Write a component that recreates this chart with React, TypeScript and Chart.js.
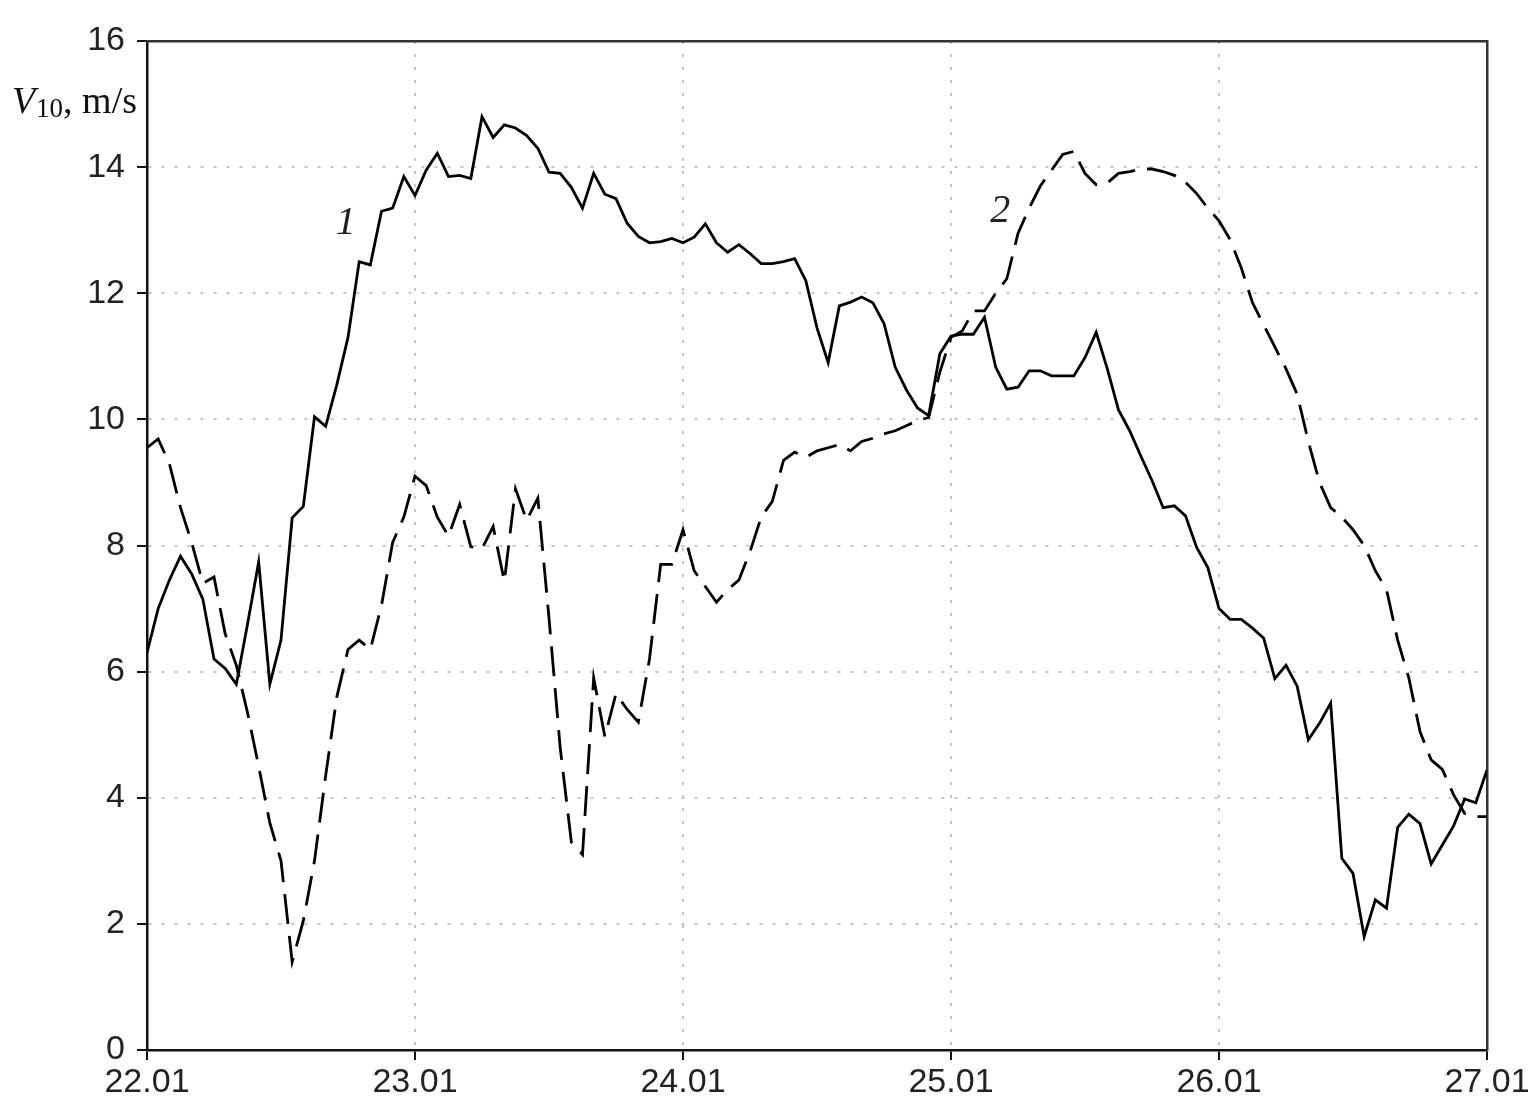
import React, { useEffect, useRef } from 'react';
import { Chart, registerables } from 'chart.js';

Chart.register(...registerables);

// x axis: hours since 22.01 00:00, hourly readings
const dayLabels = ['22.01', '23.01', '24.01', '25.01', '26.01', '27.01'];
const hoursPerDay = 24;

// Curve 1 (solid), V10 m/s, hourly from 22.01 to 27.01
const series1 = [
  6.3, 7.0, 7.45, 7.83, 7.55, 7.15, 6.2, 6.05, 5.8, 6.75,
  7.74, 5.8, 6.5, 8.44, 8.62, 10.04, 9.89, 10.55, 11.3, 12.5,
  12.45, 13.3, 13.35, 13.85, 13.55, 13.95, 14.22, 13.85, 13.87, 13.82,
  14.8, 14.47, 14.67, 14.62, 14.5, 14.3, 13.92, 13.9, 13.68, 13.35,
  13.9, 13.57, 13.5, 13.11, 12.9, 12.8, 12.82, 12.87, 12.8, 12.89,
  13.1, 12.8, 12.65, 12.77, 12.63, 12.47, 12.47, 12.5, 12.55, 12.2,
  11.45, 10.9, 11.8, 11.86, 11.94, 11.85, 11.52, 10.83, 10.47, 10.18,
  10.06, 11.04, 11.32, 11.35, 11.35, 11.62, 10.83, 10.48, 10.51, 10.77,
  10.77, 10.69, 10.69, 10.69, 10.98, 11.38, 10.8, 10.15, 9.82, 9.42,
  9.03, 8.6, 8.63, 8.47, 7.97, 7.65, 7.0, 6.83, 6.83, 6.69,
  6.53, 5.89, 6.1, 5.77, 4.92, 5.18, 5.5, 3.04, 2.8, 1.8,
  2.38, 2.25, 3.53, 3.74, 3.59, 2.95, 3.25, 3.55, 3.98, 3.92,
  4.44,
];

// Curve 2 (dashed)
const series2 = [
  9.55, 9.69, 9.3, 8.6, 8.05, 7.4, 7.5, 6.6, 6.1, 5.35,
  4.5, 3.6, 3.0, 1.4, 2.05, 3.0, 4.35, 5.6, 6.35, 6.5,
  6.35, 7.05, 8.05, 8.45, 9.1, 8.95, 8.45, 8.15, 8.65, 7.98,
  7.95, 8.3, 7.43, 8.9, 8.4, 8.75, 6.85, 4.8, 3.3, 3.1,
  5.9, 4.97, 5.65, 5.4, 5.2, 6.2, 7.7, 7.7, 8.25, 7.6,
  7.35, 7.1, 7.3, 7.45, 7.9, 8.45, 8.7, 9.35, 9.48, 9.4,
  9.5, 9.55, 9.6, 9.5, 9.65, 9.7, 9.77, 9.82, 9.9, 9.98,
  10.03, 10.75, 11.3, 11.4, 11.72, 11.72, 12.0, 12.23, 12.95, 13.35,
  13.7, 13.95, 14.2, 14.25, 13.9, 13.72, 13.75, 13.9, 13.93, 13.97,
  13.97, 13.93, 13.87, 13.76, 13.58, 13.35, 13.15, 12.85, 12.4, 11.85,
  11.5, 11.15, 10.8, 10.4, 9.65, 9.0, 8.6, 8.45, 8.25, 8.0,
  7.6, 7.3, 6.5, 5.9, 5.05, 4.6, 4.45, 4.05, 3.75, 3.7,
  3.7,
];

const seriesNames = ['1', '2'];
const seriesLabelHours = [17.8, 76.4];
const seriesLabelValues = [13.1, 13.3];

const yMin = 0;
const yMax = 16;
const yStep = 2;

const labelsPlugin = {
  id: 'refLabels',
  afterDraw(chart: any) {
    const { ctx, chartArea, scales } = chart;
    ctx.save();
    ctx.fillStyle = '#111';
    ctx.textBaseline = 'alphabetic';
    ctx.textAlign = 'left';
    // y-axis title: V10, m/s
    const fMain = '38px "Liberation Serif"';
    const fItal = 'italic 38px "Liberation Serif"';
    const fSub = '27px "Liberation Serif"';
    ctx.font = fItal;
    const wV = ctx.measureText('V').width;
    ctx.font = fSub;
    const w10 = ctx.measureText('10').width;
    ctx.font = fMain;
    const wRest = ctx.measureText(', m/s').width;
    const total = wV + 1 + w10 + wRest;
    let x = chartArea.left - 10 - total;
    const base = chartArea.top + 72;
    ctx.font = fItal;
    ctx.fillText('V', x, base);
    x += wV + 1;
    ctx.font = fSub;
    ctx.fillText('10', x, base + 4);
    x += w10;
    ctx.font = fMain;
    ctx.fillText(', m/s', x, base);

    // curve labels
    ctx.font = 'italic 40px "Liberation Serif"';
    ctx.fillStyle = '#222';
    ctx.textAlign = 'center';
    ctx.textBaseline = 'middle';
    for (let i = 0; i < seriesNames.length; i++) {
      const px = scales.x.getPixelForValue(seriesLabelHours[i]);
      const py = scales.y.getPixelForValue(seriesLabelValues[i]);
      ctx.fillText(seriesNames[i], px, py);
    }
    ctx.restore();
  },
};

export default function App() {
  const ref = useRef<HTMLCanvasElement | null>(null);

  useEffect(() => {
    if (!ref.current) return;
    const toPoints = (arr: number[]) => arr.map((v, i) => ({ x: i, y: v }));
    const tickFont = { family: '"Liberation Sans", Arial, sans-serif', size: 34 };
    const gridOpts = {
      color: '#c6c6c6',
      lineWidth: 2,
      drawTicks: true,
      tickLength: 10,
      tickColor: '#111',
      tickWidth: 2,
    };
    const chart = new Chart(ref.current, {
      type: 'line',
      data: {
        datasets: [
          {
            label: seriesNames[0],
            data: toPoints(series1),
            borderColor: '#000',
            borderWidth: 2.8,
            pointRadius: 0,
            tension: 0,
            fill: false,
          },
          {
            label: seriesNames[1],
            data: toPoints(series2),
            borderColor: '#000',
            borderWidth: 2.8,
            borderDash: [30, 12],
            pointRadius: 0,
            tension: 0,
            fill: false,
          },
        ],
      },
      options: {
        responsive: false,
        animation: false,
        devicePixelRatio: 1,
        layout: { padding: { top: 41, right: 47, bottom: 0, left: 0 } },
        plugins: {
          legend: { display: false },
          tooltip: { enabled: false },
          title: { display: false },
        },
        scales: {
          x: {
            type: 'linear',
            position: 'bottom',
            min: 0,
            max: (dayLabels.length - 1) * hoursPerDay,
            ticks: {
              stepSize: hoursPerDay,
              autoSkip: false,
              maxRotation: 0,
              padding: 2,
              color: '#222',
              font: tickFont,
              callback: (v: any) => {
                const idx = Math.round(Number(v) / hoursPerDay);
                return dayLabels[idx] ?? '';
              },
            },
            grid: gridOpts,
            border: { display: true, color: '#111', width: 2.5, dash: [3, 10] },
            afterFit: (s: any) => {
              s.height = 68;
            },
          },
          y: {
            type: 'linear',
            position: 'left',
            min: yMin,
            max: yMax,
            ticks: {
              stepSize: yStep,
              padding: 12,
              color: '#222',
              font: tickFont,
            },
            grid: gridOpts,
            border: { display: true, color: '#111', width: 2.5, dash: [3, 10] },
            afterFit: (s: any) => {
              s.width = 147;
            },
          },
          xTop: {
            type: 'linear',
            position: 'top',
            min: 0,
            max: (dayLabels.length - 1) * hoursPerDay,
            ticks: { display: false },
            grid: { display: false, drawTicks: false },
            border: { display: true, color: '#333', width: 2.5 },
            afterFit: (s: any) => {
              s.height = 0;
            },
          },
          yRight: {
            type: 'linear',
            position: 'right',
            min: yMin,
            max: yMax,
            ticks: { display: false },
            grid: { display: false, drawTicks: false },
            border: { display: true, color: '#333', width: 2.5 },
            afterFit: (s: any) => {
              s.width = 0;
            },
          },
        },
      },
      plugins: [labelsPlugin],
    } as any);
    return () => chart.destroy();
  }, []);

  return (
    <div style={{ position: 'absolute', left: 0, top: 0, width: 1534, height: 1118, background: '#fff' }}>
      <canvas ref={ref} width={1534} height={1118} style={{ display: 'block' }} />
    </div>
  );
}
